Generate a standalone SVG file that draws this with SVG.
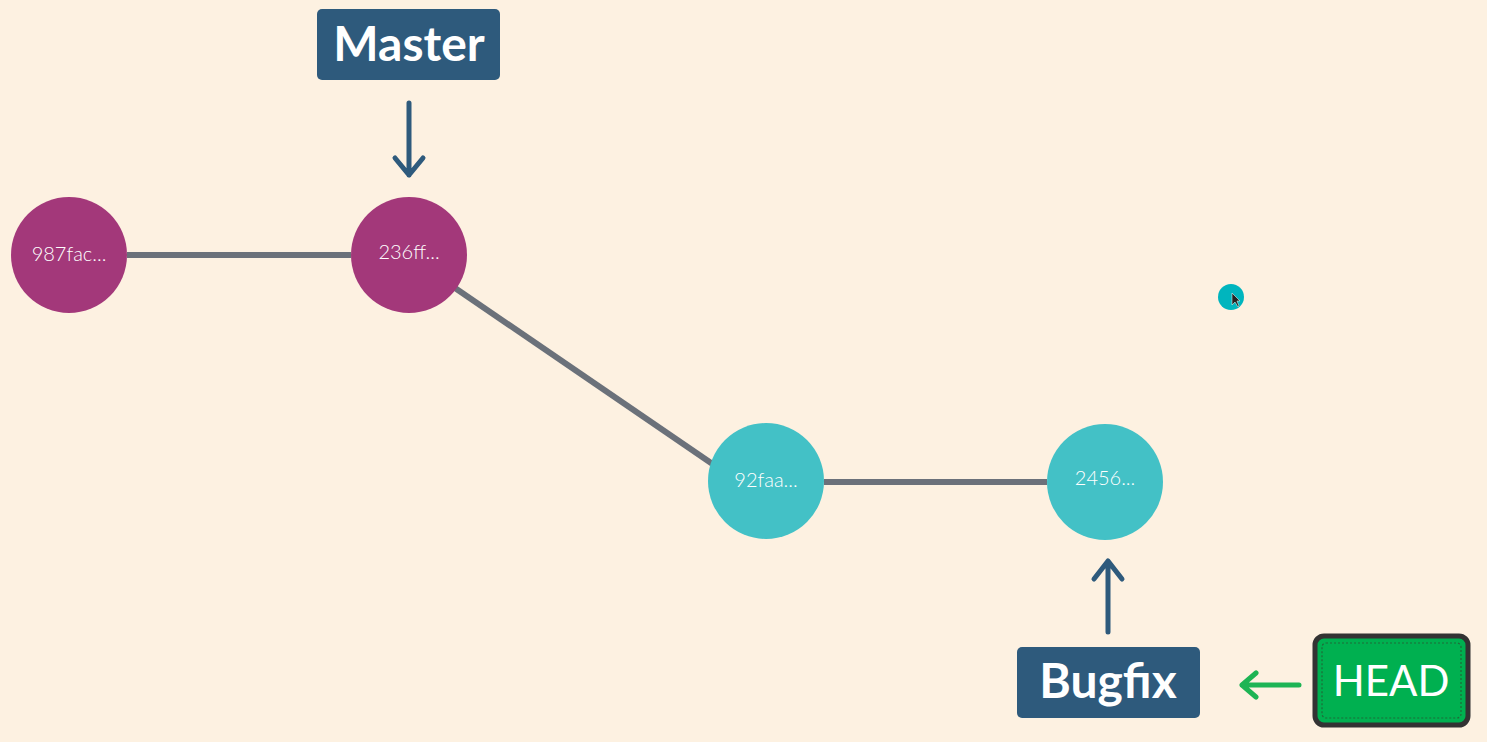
<svg xmlns="http://www.w3.org/2000/svg" width="1487" height="742" viewBox="0 0 1487 742">
<defs>
<style>
.bg{fill:#fdf1e1}
.edge{stroke:#6b717a;stroke-width:6;fill:none}
.c1{fill:#a3387a}
.c2{fill:#43c1c6}
.lbl{font-family:Lato,"Open Sans",sans-serif;font-weight:300;font-size:20px;fill:#ffffff;text-anchor:middle}
.branch{fill:#2e5a7c}
.btxt{font-family:Lato,"Open Sans",sans-serif;font-weight:700;font-size:48px;fill:#ffffff;text-anchor:middle}
.ptr{stroke:#2e5a7c;stroke-width:5;fill:none;stroke-linecap:round;stroke-linejoin:round}
.gptr{stroke:#1db454;stroke-width:5;fill:none;stroke-linecap:round;stroke-linejoin:round}
</style>
</defs>
<rect class="bg" x="0" y="0" width="1487" height="742"/>
<g id="connectors">
<line class="edge" x1="127" y1="255" x2="351" y2="255"/>
<line class="edge" x1="455" y1="288" x2="714" y2="465"/>
<line class="edge" x1="824" y1="482" x2="1047" y2="482"/>
<path class="ptr" d="M409,103 V175 M395,158 L409,175 L423,158"/>
<path class="ptr" d="M1108,632 V561 M1094,579 L1108,561 L1122,579"/>
<path class="gptr" d="M1299,685 H1242 M1256,673 L1242,685 L1256,697"/>
</g>
<g id="n987fac">
<circle class="c1" cx="69" cy="255" r="58"/>
<text class="lbl" x="69" y="261">987fac...</text>
</g>
<g id="n236ff">
<circle class="c1" cx="409" cy="255" r="58"/>
<text class="lbl" x="409" y="259">236ff...</text>
</g>
<g id="n92faa">
<circle class="c2" cx="766" cy="481" r="58"/>
<text class="lbl" x="766" y="487">92faa...</text>
</g>
<g id="n2456">
<circle class="c2" cx="1105" cy="482" r="58"/>
<text class="lbl" x="1105" y="485">2456...</text>
</g>
<g id="master">
<rect class="branch" x="317" y="9" width="183" height="71" rx="5"/>
<text class="btxt" x="409" y="61">Master</text>
</g>
<g id="bugfix">
<rect class="branch" x="1017" y="647" width="183" height="71" rx="5"/>
<text class="btxt" x="1108" y="698">Bugfix</text>
</g>
<g id="head">
<rect x="1315" y="636" width="153" height="89" rx="9" fill="#00b050" stroke="#333333" stroke-width="5"/>
<rect x="1322" y="643" width="139" height="75" rx="4" fill="none" stroke="#1f6a38" stroke-width="1.2" stroke-dasharray="2,2"/>
<text x="1391" y="696" font-family="Lato,'Open Sans',sans-serif" font-size="42" fill="#ffffff" text-anchor="middle">HEAD</text>
</g>
<g id="cursor">
<circle cx="1231" cy="297" r="13" fill="#00b5be"/>
<path d="M1232,293 L1232,305 L1235,302 L1238,307 L1239,306 L1237,301 L1240,301 Z" fill="#222222" stroke="#ffffff" stroke-width="0.5"/>
</g>
</svg>
